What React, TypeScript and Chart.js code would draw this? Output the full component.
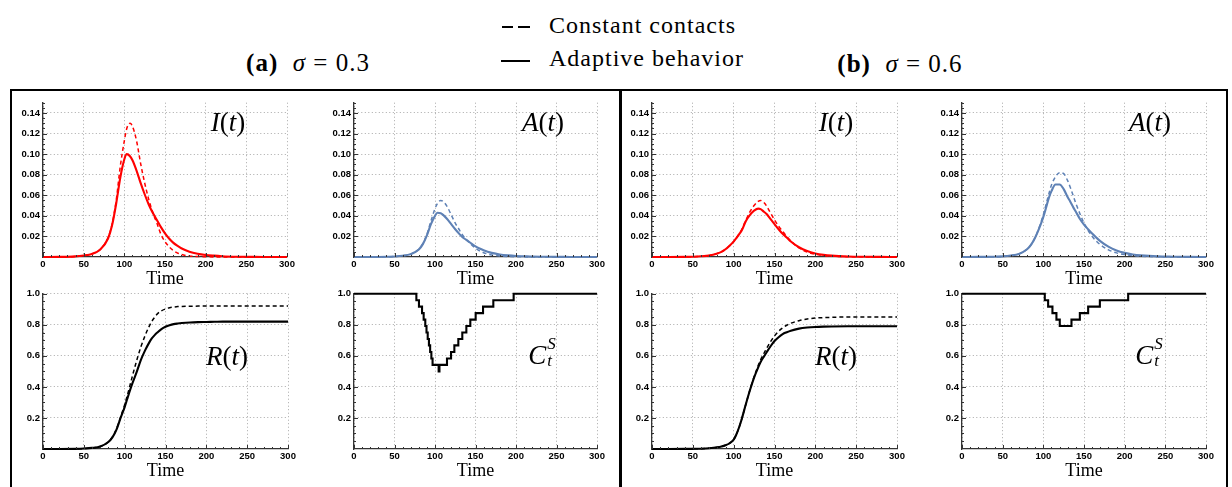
import React, { useEffect, useRef } from 'react';
import { Chart, registerables } from 'chart.js';

Chart.register(...registerables);

// ---------------- DATA ----------------
const TIME = [0, 20, 40, 50, 60, 70, 80, 85, 90, 95, 100, 103, 107, 110, 115, 120, 125, 130, 133, 137, 140, 145, 150, 155, 160, 165, 170, 180, 190, 200, 210, 220, 240, 260, 280, 300];

// Panel (a) sigma = 0.3
const I_A_ADAPT = [0, 0.0001, 0.0006, 0.0015, 0.003, 0.007, 0.018, 0.031, 0.052, 0.077, 0.095, 0.100, 0.098, 0.094, 0.084, 0.072, 0.061, 0.051, 0.046, 0.040, 0.036, 0.029, 0.023, 0.018, 0.014, 0.011, 0.0085, 0.0052, 0.0032, 0.002, 0.0013, 0.0008, 0.0003, 0.0001, 0.00005, 0];
const I_A_CONST = [0, 0.0001, 0.0006, 0.0015, 0.003, 0.007, 0.019, 0.032, 0.055, 0.088, 0.113, 0.125, 0.130, 0.127, 0.113, 0.091, 0.072, 0.056, 0.048, 0.039, 0.033, 0.022, 0.015, 0.010, 0.0065, 0.004, 0.0025, 0.001, 0.0005, 0.0002, 0.0001, 0.0001, 0, 0, 0, 0];
const A_A_ADAPT = [0, 0, 0.0002, 0.0005, 0.0012, 0.0028, 0.0072, 0.0125, 0.021, 0.032, 0.040, 0.043, 0.0425, 0.041, 0.037, 0.032, 0.027, 0.0225, 0.020, 0.0175, 0.016, 0.013, 0.0103, 0.0082, 0.0065, 0.0051, 0.004, 0.0025, 0.0016, 0.001, 0.0007, 0.0004, 0.0002, 0.0001, 0, 0];
const A_A_CONST = [0, 0, 0.0002, 0.0005, 0.0012, 0.0028, 0.0075, 0.013, 0.022, 0.035, 0.047, 0.052, 0.055, 0.054, 0.049, 0.041, 0.033, 0.0265, 0.0225, 0.0185, 0.016, 0.012, 0.0085, 0.006, 0.0042, 0.0029, 0.002, 0.001, 0.0005, 0.0002, 0.0001, 0, 0, 0, 0, 0];
const R_A_ADAPT = [0, 0, 0.001, 0.003, 0.007, 0.016, 0.045, 0.075, 0.125, 0.20, 0.27, 0.32, 0.385, 0.43, 0.50, 0.575, 0.635, 0.685, 0.71, 0.735, 0.75, 0.772, 0.787, 0.797, 0.804, 0.808, 0.811, 0.815, 0.817, 0.818, 0.819, 0.82, 0.82, 0.82, 0.82, 0.82];
const R_A_CONST = [0, 0, 0.001, 0.003, 0.007, 0.016, 0.045, 0.078, 0.13, 0.205, 0.285, 0.34, 0.42, 0.48, 0.575, 0.66, 0.73, 0.79, 0.82, 0.85, 0.87, 0.89, 0.902, 0.91, 0.914, 0.917, 0.918, 0.919, 0.92, 0.92, 0.92, 0.92, 0.92, 0.92, 0.92, 0.92];
const C_A_TIME = [0, 77, 80.2, 84, 86, 88, 89.5, 91, 92.5, 94, 95.5, 97, 104.5, 105.5, 114.8, 119.8, 123.9, 128.8, 133.7, 138.7, 143.6, 150.2, 159.3, 172, 197.1, 300];
const C_A_LEVEL = [1, 0.958, 0.917, 0.875, 0.833, 0.792, 0.75, 0.708, 0.667, 0.625, 0.583, 0.542, 0.5, 0.542, 0.583, 0.625, 0.667, 0.708, 0.75, 0.792, 0.833, 0.875, 0.917, 0.958, 1.0, 1.0];

// Panel (b) sigma = 0.6
const I_B_ADAPT = [0, 0, 0.0001, 0.0003, 0.0007, 0.0015, 0.0035, 0.005, 0.0075, 0.011, 0.015, 0.018, 0.0225, 0.026, 0.035, 0.041, 0.045, 0.047, 0.0465, 0.044, 0.042, 0.037, 0.032, 0.027, 0.0225, 0.019, 0.015, 0.0095, 0.0058, 0.0035, 0.0021, 0.0013, 0.0005, 0.0002, 0.0001, 0];
const I_B_CONST = [0, 0, 0.0001, 0.0003, 0.0007, 0.0015, 0.0035, 0.005, 0.0075, 0.011, 0.015, 0.018, 0.023, 0.027, 0.036, 0.044, 0.050, 0.054, 0.055, 0.053, 0.050, 0.043, 0.036, 0.030, 0.025, 0.020, 0.0155, 0.0088, 0.0048, 0.0026, 0.0014, 0.0008, 0.0003, 0.0001, 0, 0];
const A_B_ADAPT = [0, 0.0001, 0.0003, 0.0006, 0.0014, 0.003, 0.0075, 0.012, 0.019, 0.028, 0.039, 0.047, 0.058, 0.064, 0.0705, 0.0705, 0.066, 0.058, 0.054, 0.048, 0.044, 0.037, 0.0315, 0.027, 0.0228, 0.019, 0.0155, 0.010, 0.0063, 0.004, 0.0025, 0.0016, 0.0006, 0.0003, 0.0001, 0];
const A_B_CONST = [0, 0.0001, 0.0003, 0.0006, 0.0014, 0.003, 0.0075, 0.012, 0.019, 0.029, 0.041, 0.050, 0.062, 0.070, 0.078, 0.082, 0.081, 0.074, 0.068, 0.059, 0.052, 0.042, 0.033, 0.026, 0.020, 0.0155, 0.012, 0.007, 0.004, 0.0023, 0.0013, 0.0007, 0.0002, 0.0001, 0, 0];
const R_B_ADAPT = [0, 0, 0.0005, 0.001, 0.002, 0.005, 0.011, 0.016, 0.024, 0.037, 0.06, 0.09, 0.145, 0.195, 0.29, 0.38, 0.46, 0.525, 0.56, 0.595, 0.62, 0.66, 0.695, 0.72, 0.74, 0.752, 0.762, 0.775, 0.782, 0.786, 0.788, 0.789, 0.79, 0.79, 0.79, 0.79];
const R_B_CONST = [0, 0, 0.0005, 0.001, 0.002, 0.005, 0.011, 0.016, 0.024, 0.037, 0.06, 0.09, 0.145, 0.195, 0.29, 0.382, 0.465, 0.537, 0.575, 0.615, 0.645, 0.69, 0.728, 0.758, 0.78, 0.797, 0.81, 0.826, 0.837, 0.843, 0.846, 0.848, 0.85, 0.85, 0.85, 0.85];
const C_B_TIME = [0, 101.8, 105.9, 111.2, 116.1, 120.2, 134.6, 144.9, 155.1, 169.5, 204.3, 300];
const C_B_LEVEL = [1, 0.958, 0.917, 0.875, 0.833, 0.792, 0.833, 0.875, 0.917, 0.958, 1.0, 1.0];

// Tick labels
const X_TICKS = [0, 50, 100, 150, 200, 250, 300];
const Y_TICKS_TOP = [0.02, 0.04, 0.06, 0.08, 0.10, 0.12, 0.14];
const Y_TICKS_BOTTOM = [0.2, 0.4, 0.6, 0.8, 1.0];

// ---------------- STYLE ----------------
const SERIF = '"Liberation Serif", "DejaVu Serif", serif';
const SANS = '"Liberation Sans", Arial, sans-serif';
const RED = '#ff0000';
const BLUE = '#5e81b5';
const BLACK = '#000000';
const GRID = '#a8a8a8';
const AXIS = '#333333';

const YW = 34;
const PT = 7;
const PR = 14;
const XH = 32;

type Series = { xs: number[]; ys: number[]; color: string; dashed: boolean; stepped?: boolean };
type Spec = {
  x0: number; x1: number; top: number; bottom: number;
  yMax: number; yTicks: number[]; yMinor: number; dec: number;
  series: Series[];
};

const pts = (xs: number[], ys: number[]) => xs.map((x, i) => ({ x, y: ys[i] }));

const PLOTS: Spec[] = [
  { x0: 43, x1: 287, top: 101, bottom: 257, yMax: 0.15, yTicks: Y_TICKS_TOP, yMinor: 0.005, dec: 2,
    series: [
      { xs: TIME, ys: I_A_ADAPT, color: RED, dashed: false },
      { xs: TIME, ys: I_A_CONST, color: RED, dashed: true },
    ] },
  { x0: 354, x1: 597, top: 101, bottom: 257, yMax: 0.15, yTicks: Y_TICKS_TOP, yMinor: 0.005, dec: 2,
    series: [
      { xs: TIME, ys: A_A_ADAPT, color: BLUE, dashed: false },
      { xs: TIME, ys: A_A_CONST, color: BLUE, dashed: true },
    ] },
  { x0: 43, x1: 288, top: 292, bottom: 449, yMax: 1, yTicks: Y_TICKS_BOTTOM, yMinor: 0.05, dec: 1,
    series: [
      { xs: TIME, ys: R_A_ADAPT, color: BLACK, dashed: false },
      { xs: TIME, ys: R_A_CONST, color: BLACK, dashed: true },
    ] },
  { x0: 354, x1: 597, top: 292, bottom: 449, yMax: 1, yTicks: Y_TICKS_BOTTOM, yMinor: 0.05, dec: 1,
    series: [{ xs: C_A_TIME, ys: C_A_LEVEL, color: BLACK, dashed: false, stepped: true }] },
  { x0: 652, x1: 897, top: 101, bottom: 257, yMax: 0.15, yTicks: Y_TICKS_TOP, yMinor: 0.005, dec: 2,
    series: [
      { xs: TIME, ys: I_B_ADAPT, color: RED, dashed: false },
      { xs: TIME, ys: I_B_CONST, color: RED, dashed: true },
    ] },
  { x0: 962, x1: 1206, top: 101, bottom: 257, yMax: 0.15, yTicks: Y_TICKS_TOP, yMinor: 0.005, dec: 2,
    series: [
      { xs: TIME, ys: A_B_ADAPT, color: BLUE, dashed: false },
      { xs: TIME, ys: A_B_CONST, color: BLUE, dashed: true },
    ] },
  { x0: 652, x1: 897, top: 292, bottom: 449, yMax: 1, yTicks: Y_TICKS_BOTTOM, yMinor: 0.05, dec: 1,
    series: [
      { xs: TIME, ys: R_B_ADAPT, color: BLACK, dashed: false },
      { xs: TIME, ys: R_B_CONST, color: BLACK, dashed: true },
    ] },
  { x0: 962, x1: 1206, top: 292, bottom: 449, yMax: 1, yTicks: Y_TICKS_BOTTOM, yMinor: 0.05, dec: 1,
    series: [{ xs: C_B_TIME, ys: C_B_LEVEL, color: BLACK, dashed: false, stepped: true }] },
];

const innerTicks = (spec: Spec) => ({
  id: 'innerTicks',
  afterDraw(chart: any) {
    const { ctx, chartArea: a } = chart;
    const xs = chart.scales.x;
    const ys = chart.scales.y;
    ctx.save();
    ctx.strokeStyle = AXIS;
    ctx.lineWidth = 1;
    ctx.beginPath();
    for (let k = 0; k <= 30; k++) {
      const v = k * 10;
      const px = Math.round(xs.getPixelForValue(v)) + 0.5;
      const len = k % 5 === 0 ? 4 : 2;
      ctx.moveTo(px, a.bottom);
      ctx.lineTo(px, a.bottom - len);
    }
    const n = Math.round(spec.yMax / spec.yMinor);
    for (let k = 1; k <= n; k++) {
      const v = k * spec.yMinor;
      const py = Math.round(ys.getPixelForValue(v)) + 0.5;
      const major = spec.yTicks.some((t) => Math.abs(t - v) < 1e-9);
      const len = major ? 4 : 2;
      ctx.moveTo(a.left, py);
      ctx.lineTo(a.left + len, py);
    }
    ctx.stroke();
    ctx.restore();
  },
});

function Plot({ spec }: { spec: Spec }) {
  const ref = useRef<HTMLCanvasElement>(null);
  const width = spec.x1 - spec.x0 + YW + PR;
  const height = spec.bottom - spec.top + PT + XH;

  useEffect(() => {
    if (!ref.current) return;
    const tickFont = { family: SANS, size: 9.5, weight: 'bold' as const };
    const chart = new Chart(ref.current, {
      type: 'line',
      data: {
        datasets: spec.series.map((s) => ({
          data: pts(s.xs, s.ys),
          borderColor: s.color,
          borderWidth: s.dashed ? 1.5 : 2.1,
          borderDash: s.dashed ? [4, 3] : [],
          pointRadius: 0,
          fill: false,
          stepped: s.stepped ? ('before' as const) : false,
          cubicInterpolationMode: 'monotone' as const,
          clip: 6,
        })),
      },
      options: {
        animation: false,
        responsive: false,
        devicePixelRatio: 1,
        layout: { padding: { top: PT, right: PR, left: 0, bottom: 0 } },
        plugins: { legend: { display: false }, tooltip: { enabled: false }, title: { display: false } },
        scales: {
          x: {
            type: 'linear',
            min: 0,
            max: 300,
            afterBuildTicks: (s: any) => { s.ticks = X_TICKS.map((v) => ({ value: v })); },
            afterFit: (s: any) => { s.height = XH; },
            ticks: { padding: 2, font: tickFont, color: '#000', maxRotation: 0, autoSkip: false },
            grid: { color: GRID, lineWidth: 1, drawTicks: false },
            border: { color: AXIS, width: 1.3, dash: [1, 2.5] },
            title: { display: true, text: 'Time', color: '#000', font: { family: SERIF, size: 18, lineHeight: 1 }, padding: { top: 0, bottom: 1 } },
          },
          y: {
            type: 'linear',
            min: 0,
            max: spec.yMax,
            afterBuildTicks: (s: any) => { s.ticks = spec.yTicks.map((v) => ({ value: v })); },
            afterFit: (s: any) => { s.width = YW; },
            ticks: { padding: 3, font: tickFont, color: '#000', autoSkip: false, callback: (v: any) => Number(v).toFixed(spec.dec) },
            grid: { color: GRID, lineWidth: 1, drawTicks: false },
            border: { color: AXIS, width: 1.3, dash: [1, 2.5] },
          },
        },
      },
      plugins: [innerTicks(spec)],
    } as any);
    return () => chart.destroy();
  }, []);

  return (
    <canvas
      ref={ref}
      width={width}
      height={height}
      style={{ position: 'absolute', left: spec.x0 - YW, top: spec.top - PT, width, height }}
    />
  );
}

const labelStyle = (x: number, y: number): React.CSSProperties => ({
  position: 'absolute', left: x, top: y, transform: 'translate(-50%, -50%)',
  fontFamily: SERIF, fontSize: 27, lineHeight: 1, whiteSpace: 'nowrap', color: '#000',
});

const Ct = () => (
  <span style={{ display: 'inline-flex', alignItems: 'center' }}>
    <i>C</i>
    <span style={{ display: 'inline-flex', flexDirection: 'column', fontSize: 17, lineHeight: 1, marginLeft: 1 }}>
      <i style={{ marginTop: -8 }}>S</i>
      <i style={{ marginTop: 0 }}>t</i>
    </span>
  </span>
);

const PLOT_LABELS: { x: number; y: number; node: React.ReactNode }[] = [
  { x: 228, y: 122, node: <span><i>I</i>(<i>t</i>)</span> },
  { x: 543, y: 122, node: <span><i>A</i>(<i>t</i>)</span> },
  { x: 227, y: 356, node: <span><i>R</i>(<i>t</i>)</span> },
  { x: 542, y: 355, node: <Ct /> },
  { x: 836, y: 122, node: <span><i>I</i>(<i>t</i>)</span> },
  { x: 1150, y: 122, node: <span><i>A</i>(<i>t</i>)</span> },
  { x: 836, y: 356, node: <span><i>R</i>(<i>t</i>)</span> },
  { x: 1149, y: 355, node: <Ct /> },
];

const textStyle: React.CSSProperties = {
  position: 'absolute', fontFamily: SERIF, fontSize: 24, lineHeight: '24px',
  letterSpacing: 1, whiteSpace: 'nowrap', color: '#000',
};

export default function App() {
  return (
    <div style={{ position: 'absolute', left: 0, top: 0, width: 1232, height: 487, overflow: 'hidden', background: '#fff' }}>
      {/* legend */}
      <div style={{ position: 'absolute', left: 502, top: 26, width: 11, height: 2, background: '#000' }} />
      <div style={{ position: 'absolute', left: 518, top: 26, width: 12, height: 2, background: '#000' }} />
      <div style={{ position: 'absolute', left: 501, top: 60, width: 29, height: 2, background: '#000' }} />
      <div style={{ ...textStyle, left: 549, top: 13 }}>Constant contacts</div>
      <div style={{ ...textStyle, left: 549, top: 46 }}>Adaptive behavior</div>

      {/* panel titles */}
      <div style={{ ...textStyle, fontSize: 25, letterSpacing: 1, left: 308, top: 51, transform: 'translateX(-50%)' }}>
        <b>(a)</b>&nbsp;&nbsp;<i>σ</i>&nbsp;=&nbsp;0.3
      </div>
      <div style={{ ...textStyle, fontSize: 25, letterSpacing: 1, left: 900, top: 52, transform: 'translateX(-50%)' }}>
        <b>(b)</b>&nbsp;&nbsp;<i>σ</i>&nbsp;=&nbsp;0.6
      </div>

      {/* frames */}
      <div style={{ position: 'absolute', left: 10, top: 89, width: 1218, height: 420, boxSizing: 'border-box', borderTop: '2px solid #000', borderLeft: '2px solid #000', borderRight: '2px solid #000' }} />
      <div style={{ position: 'absolute', left: 619, top: 89, width: 2.5, height: 420, background: '#000' }} />

      {PLOTS.map((p, i) => <Plot key={i} spec={p} />)}

      {PLOT_LABELS.map((l, i) => (
        <div key={'l' + i} style={labelStyle(l.x, l.y)}>{l.node}</div>
      ))}
    </div>
  );
}
